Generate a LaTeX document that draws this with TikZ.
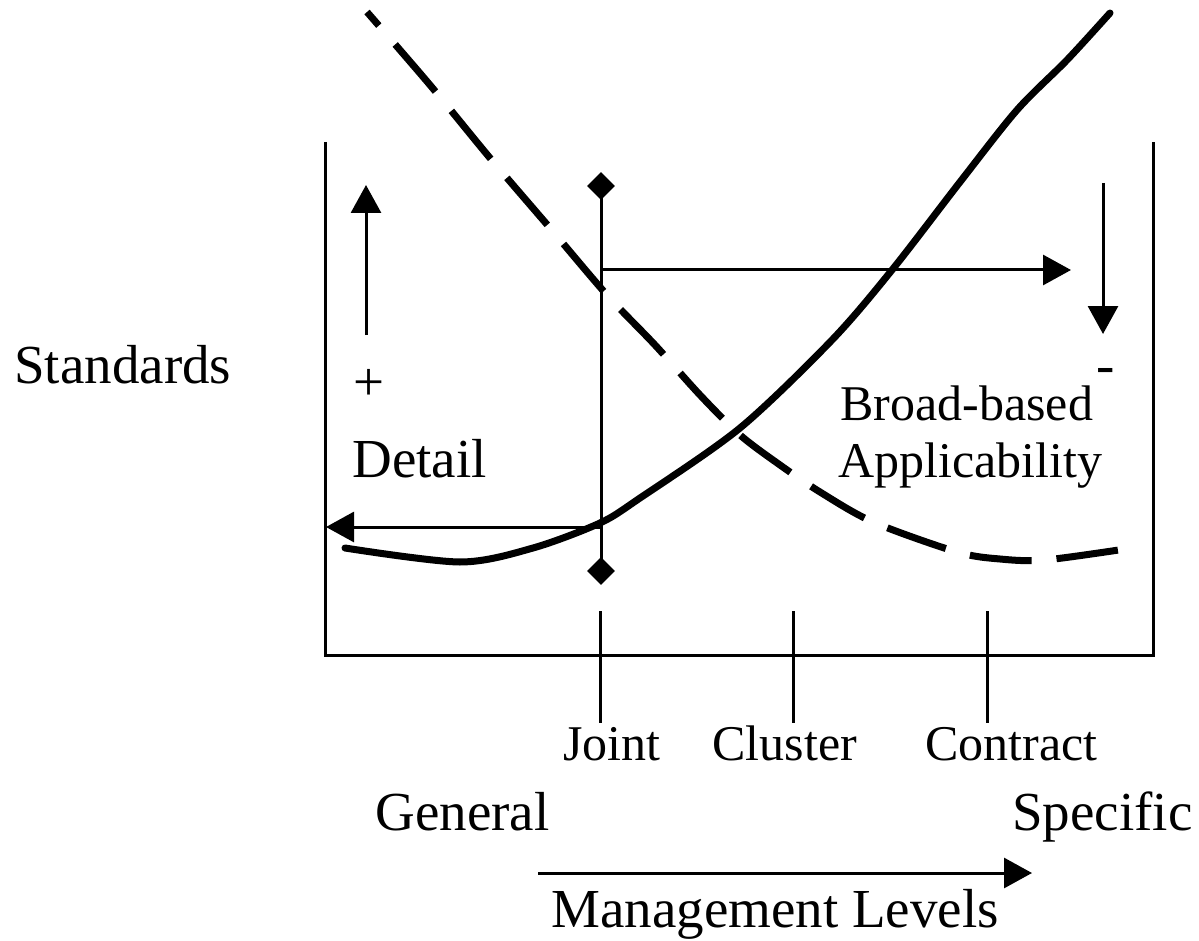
\documentclass[tikz,border=0pt]{standalone}
\usepackage{fontspec}
\setmainfont{Liberation Serif}
\usetikzlibrary{arrows.meta,shapes.geometric}
\begin{document}
\begin{tikzpicture}[x=0.5pt,y=-0.5pt,
  thinline/.style={line width=1.5pt},
  arr/.style={thinline,-{Triangle[length=14pt,width=15pt]}},
  solidcurve/.style={line width=3.5pt, line cap=round, line join=round},
  dashcurve/.style={line width=3.5pt, dash pattern=on 31pt off 12.5pt, dash phase=22pt},
  biglbl/.style={anchor=base west, inner sep=0, font=\fontsize{27.5}{30}\selectfont},
  midlbl/.style={anchor=base west, inner sep=0, font=\fontsize{25}{27}\selectfont},
  dia/.style={diamond, fill=black, inner sep=0, minimum size=14pt}]
\useasboundingbox (0,0) rectangle (1199,941);

% frame
\coordinate (TL) at (325,142);
\coordinate (BL) at (325,655);
\coordinate (BR) at (1153,655);
\coordinate (TR) at (1153,142);
\draw[thinline] (TL) -- (BL) -- (BR) -- (TR);

% ticks
\coordinate (jt) at (600,611); \coordinate (jb) at (600,723);
\coordinate (ct) at (793,611); \coordinate (cb) at (793,723);
\coordinate (kt) at (987,611); \coordinate (kb) at (987,723);
\draw[thinline] (jt) -- (jb);
\draw[thinline] (ct) -- (cb);
\draw[thinline] (kt) -- (kb);

% Joint vertical with diamonds
\node[dia] (dtop) at (601,186) {};
\node[dia] (dbot) at (601,571) {};
\draw[thinline] (dtop.center) -- (dbot.center);

% arrows
\coordinate (ra) at (600,270); \coordinate (rb) at (1071,270);
\draw[arr] (ra) -- (rb);
\coordinate (la) at (600,527); \coordinate (lb) at (326,527);
\draw[arr] (la) -- (lb);
\coordinate (ua) at (366,335); \coordinate (ub) at (366,185);
\draw[arr] (ua) -- (ub);
\coordinate (da) at (1103,183); \coordinate (db) at (1103,334);
\draw[arr] (da) -- (db);
\coordinate (ma) at (538,873); \coordinate (mb) at (1032,873);
\draw[arr] (ma) -- (mb);

% solid curve
\draw[solidcurve] plot[smooth, tension=0.5] coordinates {
  (345,548) (460,562) (533,548) (600,523) (640,498) (740,428)
  (832,340) (892,270) (960,182) (1017,110) (1067,60) (1110,13)};

% dashed curve
\draw[dashcurve] plot[smooth, tension=0.5] coordinates {
  (367,12) (430,85) (490,158) (550,228) (607,295) (655,345) (700,395)
  (740,435) (780,465) (820,492) (873,522) (957,552) (1000,559) (1045,560) (1132,548)};

% labels
\node[biglbl] (standards) at (14,383) {Standards};
\node[biglbl] (plus) at (353,400) {+};
\node[biglbl] (detail) at (352,477) {Detail};
\node[midlbl] (broad) at (840,420) {Broad-based};
\node[midlbl] (appl) at (838,477) {Applicability};
\node[biglbl] (minus) at (1096,383) {-};
\node[midlbl] (joint) at (563,760) {Joint};
\node[midlbl] (cluster) at (712,760) {Cluster};
\node[midlbl] (contract) at (925,760) {Contract};
\node[biglbl] (general) at (375,830) {General};
\node[biglbl] (specific) at (1012,830) {Specific};
\node[biglbl] (mgmt) at (551,927) {Management Levels};
\end{tikzpicture}
\end{document}
